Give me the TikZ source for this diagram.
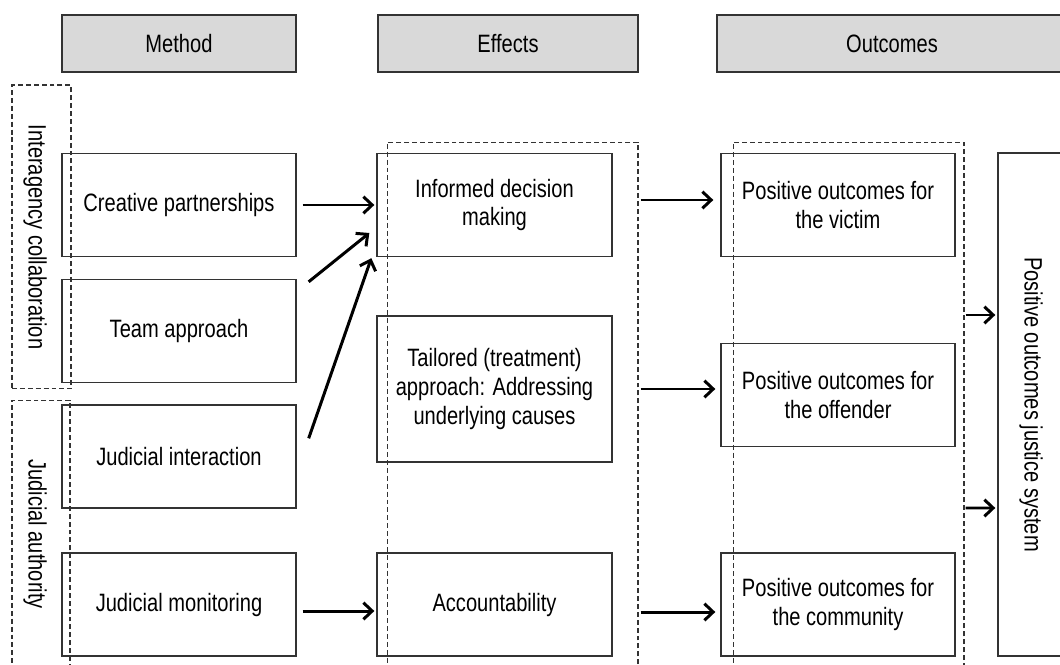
\documentclass[tikz,border=0pt]{standalone}
\usepackage{fontspec}
\setmainfont[FakeStretch=0.8]{Liberation Sans}
\usetikzlibrary{arrows.meta}
\definecolor{headgray}{HTML}{D9D9D9}
\definecolor{linegray}{HTML}{333333}
\begin{document}
\begin{tikzpicture}[x=0.02cm,y=-0.02cm,
    every node/.style={font=\fontsize{14.3}{16.5}\selectfont, align=center, inner sep=0pt},
    head/.style={draw=linegray, line width=0.8pt, fill=headgray, minimum height=1.14cm},
    box/.style={draw=linegray, line width=0.8pt, minimum width=4.68cm, minimum height=2.06cm},
    grp/.style={draw=linegray, line width=0.6pt, dash pattern=on 2.8pt off 1.7pt},
    arr/.style={line width=1.7pt, -{Straight Barb[length=5pt,width=9.5pt]}}]
  \useasboundingbox (0,0) rectangle (1060,665);
  \clip (0,0) rectangle (1060,665);
  \draw
    (179,43.5) node[head, minimum width=4.68cm] (hm) {Method}
    (508,43.5) node[head, minimum width=5.2cm] (he) {Effects}
    (892,43.5) node[head, minimum width=7cm] (ho) {Outcomes}
    (179,205) node[box] (cre) {Creative partnerships}
    (179,331) node[box] (tea) {Team approach}
    (179,456.5) node[box] (jin) {Judicial interaction}
    (179,604.5) node[box] (jmo) {Judicial monitoring}
    (494.5,205) node[box, minimum width=4.7cm] (inf) {Informed decision\\making}
    (494.5,389) node[box, minimum width=4.7cm, minimum height=2.92cm] (tai) {Tailored (treatment)\\approach: Addressing\\underlying causes}
    (494.5,604.5) node[box, minimum width=4.7cm] (acc) {Accountability}
    (838,205) node[box] (vic) {Positive outcomes for\\the victim}
    (838,395) node[box] (off) {Positive outcomes for\\the offender}
    (838,604.5) node[box] (com) {Positive outcomes for\\the community}
    (1031,404.5) node[box, rotate=-90, minimum width=10.06cm, minimum height=1.32cm] (sys) {Positive outcomes justice system};
  \draw
    (41.5,237) node[grp, minimum width=1.18cm, minimum height=6.08cm] (ia) {}
    (41,545) node[grp, minimum width=1.16cm, minimum height=5.8cm] (ja) {}
    (512.5,416) node[grp, minimum width=5.02cm, minimum height=10.96cm] (ge) {}
    (848.5,416) node[grp, minimum width=4.62cm, minimum height=10.96cm] (go) {}
    (35,237) node[rotate=-90] (ial) {Interagency collaboration}
    (35,534) node[rotate=-90] (jal) {Judicial authority};
  \begin{scope}[arr]
    \draw ([shift={(6,0)}]cre.east) to ([shift={(-2,0)}]inf.west);
    \draw ([shift={(12,3)}]tea.north east) to ([shift={(-7,28)}]inf.west);
    \draw ([shift={(12,34)}]jin.north east) to ([shift={(-5,1)}]inf.south west);
    \draw ([shift={(6,6.5)}]jmo.east) to ([shift={(-2,6.5)}]acc.west);
    \draw ([shift={(28,-5)}]inf.east) to ([shift={(-7,-5)}]vic.west);
    \draw ([shift={(28,0)}]tai.east) to ([shift={(-5,-6)}]off.west);
    \draw ([shift={(28,7.5)}]acc.east) to ([shift={(-5,7.5)}]com.west);
    \draw ([shift={(1,-101)}]go.east) to ([shift={(-2,-89.5)}]sys.south);
    \draw ([shift={(1,92)}]go.east) to ([shift={(-2,103.5)}]sys.south);
  \end{scope}
\end{tikzpicture}
\end{document}
